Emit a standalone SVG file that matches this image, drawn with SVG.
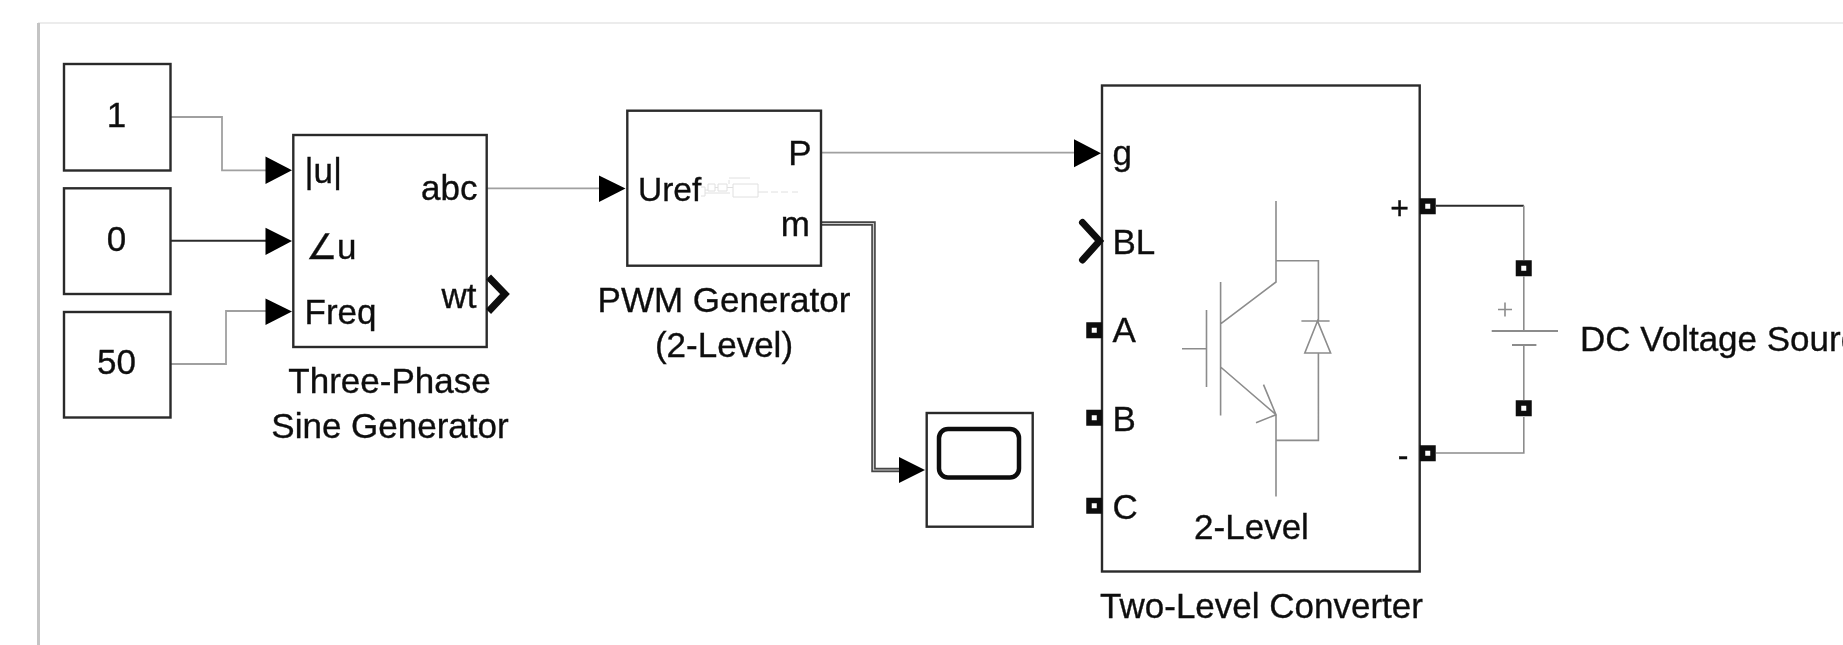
<svg xmlns="http://www.w3.org/2000/svg" width="1843" height="645" viewBox="0 0 1843 645">
<style>
text{font-family:"Liberation Sans",Arial,sans-serif;font-size:35px;fill:#111;stroke:#111;stroke-width:.35}
.m{text-anchor:middle}.e{text-anchor:end}
.b{fill:#fff;stroke:#2c2c2c;stroke-width:2.4}
.w{fill:none;stroke:#a0a0a0;stroke-width:1.8}
.k{fill:none;stroke:#2c2c2c;stroke-width:2}
.g{fill:none;stroke:#8c8c8c;stroke-width:1.6}
.t{fill:none;stroke:#e0e0e0;stroke-width:1}
.c{fill:none;stroke:#111;stroke-width:7}
.p{fill:#fff;stroke:#111;stroke-width:5.5}
.a{fill:#000}
</style>
<defs>
<filter id="s" x="-2%" y="-2%" width="104%" height="104%"><feGaussianBlur stdDeviation="0.55"/></filter>
</defs>
<rect width="1843" height="645" fill="#fff"/>
<g filter="url(#s)">
<g id="canvas">
<line x1="38" y1="23" x2="1843" y2="23" stroke="#e6e6e6" stroke-width="1.5"/>
<line x1="38.5" y1="23" x2="38.5" y2="645" stroke="#c4c4c4" stroke-width="3"/>
</g>
<g id="connectors">
<path class="w" d="M170.500 117H222V170.300H268"/>
<path class="k" d="M170.500 240.700H268"/>
<path class="w" d="M170.500 364H226V311H268"/>
<path class="w" d="M487 188.300H601"/>
<path class="w" d="M821 152.700H1076"/>
<path fill="none" stroke="#444" stroke-width="4.500" d="M821 223.500H873.500V470H901"/>
<path fill="none" stroke="#ccc" stroke-width="1.200" d="M821 223.500H873.500V470H901"/>
<path class="k" d="M1436 205.800H1523.800"/>
<path class="g" d="M1523.800 205.800V260M1523.800 276.500V331M1523.800 345V400M1523.800 417V453H1436"/>
<polygon class="a" points="265.500,156.500 292,170.300 265.500,184"/>
<polygon class="a" points="265.500,227.700 292,241 265.500,255"/>
<polygon class="a" points="265.500,298.500 292,311.500 265.500,325"/>
<polygon class="a" points="599,175.500 625.500,188.500 599,202"/>
<polygon class="a" points="1074,139.300 1101,153.300 1074,167.300"/>
<polygon class="a" points="899,457 925,470 899,483"/>
</g>
<g id="const1"><rect class="b" x="64" y="64" width="106.500" height="106.500"/><text class="m" x="116.500" y="127">1</text></g>
<g id="const0"><rect class="b" x="64" y="188.300" width="106.500" height="105.700"/><text class="m" x="116.500" y="251">0</text></g>
<g id="const50"><rect class="b" x="64" y="312" width="106.500" height="105.500"/><text class="m" x="116.500" y="374">50</text></g>
<g id="sine-generator">
<rect class="b" x="293.300" y="135" width="193.400" height="212"/>
<text x="304.500" y="183">|u|</text>
<text x="306" y="259">∠u</text>
<text x="304.500" y="324">Freq</text>
<text class="e" x="477.500" y="200">abc</text>
<text class="e" x="476.500" y="307.500">wt</text>
<path class="c" d="M488.500 277L505 294L488.500 311.500"/>
<text class="m" x="389.500" y="393">Three-Phase</text>
<text class="m" x="390" y="438">Sine Generator</text>
</g>
<g id="pwm-generator">
<rect class="b" x="627.300" y="110.700" width="193.700" height="155"/>
<text x="638" y="200.500" style="font-size:33.500px">Uref</text>
<text class="e" x="811.500" y="165">P</text>
<text class="e" x="810" y="236">m</text>
<path class="t" d="M701 187H705V196H701M705 190H708M708 184H715V191H708ZM715 187.500H718M718 184H727V191H718ZM727 187.500H733M733 184H758V197H733ZM705 193H730M729 180V184M729 178H750M758 192H768M771 192H778M781 192H788M792 192H798"/>
<text class="m" x="724" y="311.500">PWM Generator</text>
<text class="m" x="724" y="356.500">(2-Level)</text>
</g>
<g id="scope">
<rect class="b" x="926.700" y="413" width="106" height="113.700"/>
<rect x="939" y="429" width="80" height="48.500" rx="9" fill="#fff" stroke="#111" stroke-width="4.500"/>
</g>
<g id="two-level-converter">
<rect class="b" x="1102" y="85.500" width="317.700" height="486"/>
<path class="c" d="M1082.500 222.500L1099.500 241L1082.500 260" stroke-linecap="round"/>
<rect class="p" x="1089" y="325" width="10.500" height="10.500"/>
<rect class="p" x="1089" y="412.500" width="10.500" height="10.500"/>
<rect class="p" x="1089" y="500.500" width="10.500" height="10.500"/>
<rect class="p" x="1422.500" y="201" width="10.500" height="10.500"/>
<rect class="p" x="1422.500" y="448" width="10.500" height="10.500"/>
<text x="1112.500" y="165">g</text>
<text x="1112.500" y="254">BL</text>
<text x="1112.500" y="342">A</text>
<text x="1112.500" y="431">B</text>
<text x="1112.500" y="519">C</text>
<text class="m" x="1399.500" y="219" style="font-size:32px">+</text>
<text class="m" x="1403" y="466" style="font-size:32px">-</text>
<path class="g" d="M1182 348.700H1206.500M1206.500 310V387M1220.600 282V415.400M1220.600 323.800L1276 282V201M1276 260.700H1318.400V321M1301.400 321H1329.600M1317.500 321L1304.800 353H1330.600ZM1318.400 353V440.400H1276M1220.600 367L1276 414.700V496.500M1263.500 384.600L1276 414.700L1256 422.800"/>
<text class="m" x="1251.500" y="539">2-Level</text>
<text class="m" x="1261.500" y="617.500">Two-Level Converter</text>
</g>
<g id="dc-voltage-source">
<rect class="p" x="1518.500" y="263" width="10.500" height="10.500"/>
<rect class="p" x="1518.500" y="403" width="10.500" height="10.500"/>
<path fill="none" stroke="#8c8c8c" stroke-width="2" d="M1491.700 331H1558M1512 345H1536.400"/>
<path class="g" d="M1498 309.500H1512M1505 302.500V316.500"/>
<text x="1580" y="350.500">DC Voltage Source</text>
</g>
</g>
</svg>
